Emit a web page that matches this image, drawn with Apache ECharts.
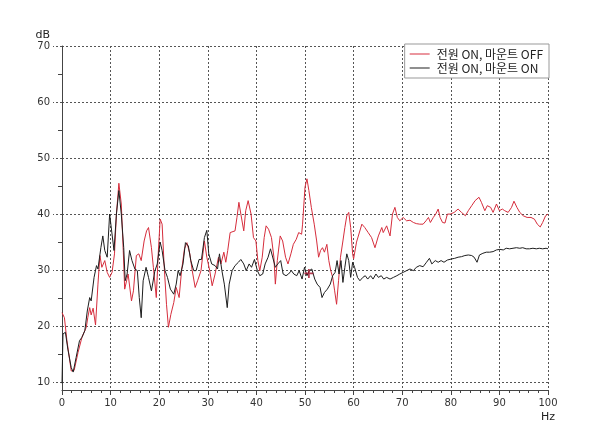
<!DOCTYPE html>
<html>
<head>
<meta charset="utf-8">
<script src="https://cdn.jsdelivr.net/npm/echarts@6/dist/echarts.min.js"></script>
<style>html,body{margin:0;padding:0;background:#fff;}#c{width:609px;height:431px;}</style>
</head>
<body>
<div id="c"></div>
<script>
const seriesNames = ['전원 ON, 마운트 OFF', '전원 ON, 마운트 ON'];
const xTicks = [0,10,20,30,40,50,60,70,80,90,100];
const yTicks = [10,20,30,40,50,60,70];
const yMinorTicks = [15,25,35,45,55,65];

const redHz = [0,0.5,1.0,1.9,2.5,3.3,4.1,5.0,5.3,5.7,6.0,6.4,6.9,7.4,7.8,8.2,8.8,9.3,9.8,10.3,10.8,11.2,11.7,12.2,12.6,12.9,13.6,14.3,14.7,15.3,15.8,16.3,16.9,17.4,17.8,18.4,18.8,19.4,19.8,20.2,20.6,21.0,21.5,21.9,22.4,23.0,23.5,24.1,24.6,25.2,25.7,26.3,26.8,27.4,27.9,28.6,29.3,29.8,30.4,30.9,31.5,32.2,32.7,33.3,33.7,34.1,34.6,35.0,35.6,36.0,36.4,36.8,37.4,37.8,38.3,38.9,39.4,39.9,40.3,40.7,41.2,41.6,42.0,42.5,43.1,43.6,43.9,44.3,44.9,45.4,46.0,46.5,47.1,47.6,48.2,48.7,49.3,49.5,50.0,50.4,50.8,51.3,51.9,52.4,52.8,53.2,53.6,54.0,54.5,54.9,55.3,55.7,56.1,56.5,56.9,57.3,57.8,58.2,58.6,59.0,59.4,59.8,60.0,60.6,61.7,62.3,63.0,63.7,64.4,65.1,65.8,66.1,66.8,67.5,68.0,68.5,69.0,69.5,70.2,70.9,71.6,72.3,72.9,73.6,74.3,74.9,75.4,75.8,76.4,76.9,77.4,77.8,78.3,78.8,79.3,79.9,80.7,81.5,82.2,83.0,83.6,84.3,85.0,85.8,86.3,87.0,87.5,88.2,88.7,89.4,90.0,90.6,91.1,91.8,92.5,93.0,93.6,94.2,94.9,95.7,96.5,97.2,97.8,98.4,98.9,99.5,100];
const redDb = [22.4,21.5,17.5,12.0,12.1,15.3,18.0,19.8,21.5,23.3,22.0,23.2,20.2,27.5,32.6,30.5,31.7,29.6,28.7,29.6,32.9,40.0,45.5,41.8,33.5,26.6,29.3,24.5,26.3,32.6,32.9,31.7,35.2,37.0,37.6,34.0,30.5,25.1,32.9,39.1,38.2,31.1,23.9,19.8,22.1,24.2,26.9,25.1,29.9,33.8,34.9,32.9,29.9,26.9,28.1,29.9,35.2,32.3,29.9,27.2,29.3,32.3,31.1,33.2,31.4,33.5,36.7,37.0,37.0,39.4,42.1,40.0,37.0,40.6,42.4,40.0,35.8,35.2,31.7,29.9,32.3,35.8,37.9,37.3,35.8,32.3,27.5,31.7,36.1,35.2,32.3,31.1,32.9,34.6,35.5,36.7,36.4,38.2,44.8,46.3,44.2,41.2,38.2,35.2,32.3,33.5,34.0,33.2,34.6,31.7,29.9,28.7,26.3,23.9,28.1,32.3,35.2,37.6,39.7,40.3,37.6,32.9,32.0,35.0,38.2,37.6,36.7,35.8,34.0,36.1,37.6,36.7,37.9,36.1,40.0,41.2,39.4,38.8,39.4,38.8,38.9,38.5,38.3,38.2,38.2,38.8,39.4,38.5,39.4,40.0,40.9,39.4,38.5,38.4,40.0,40.0,40.3,40.9,40.3,39.7,40.6,41.5,42.4,43.0,42.1,40.6,41.5,41.2,40.3,41.8,40.6,40.9,40.6,40.3,41.2,42.3,41.2,40.3,39.7,39.4,39.4,39.1,38.2,37.7,38.5,39.7,40.0];

const blackHz = [0,0.2,0.7,1.2,1.6,1.9,2.3,2.9,3.6,4.1,4.7,5.2,5.7,6.0,6.6,7.1,7.4,8.0,8.4,8.8,9.3,9.8,10.2,10.7,11.2,11.7,12.2,12.7,13.0,13.4,13.9,14.4,15.0,15.5,15.9,16.3,16.7,17.3,17.8,18.4,19.1,19.6,20.2,20.6,21.2,21.7,22.3,23.0,23.5,23.9,24.3,24.9,25.4,26.0,26.5,27.1,27.6,28.2,28.7,29.3,29.8,30.2,30.8,31.5,32.0,32.4,32.9,33.4,34.0,34.4,35.0,35.6,36.3,36.8,37.4,37.9,38.5,39.0,39.6,40.2,40.7,41.3,41.8,42.4,42.9,43.3,43.9,44.4,45.0,45.5,46.1,46.6,47.2,47.7,48.3,48.8,49.4,49.9,50.4,50.9,51.4,52.0,52.5,53.1,53.5,54.0,54.6,55.2,55.7,56.2,56.6,57.0,57.4,57.8,58.2,58.6,59.0,59.4,59.8,60.2,60.8,61.3,61.9,62.4,62.9,63.5,64.0,64.6,65.1,65.7,66.2,66.8,67.5,68.2,68.9,69.5,70.2,70.9,71.6,72.3,72.9,73.6,74.3,75.0,75.6,76.1,76.8,77.4,78.0,78.6,79.3,80.2,80.8,81.5,82.2,82.9,83.6,84.3,84.8,85.4,85.9,86.6,87.3,88.0,88.7,89.4,90.1,90.8,91.4,92.1,92.8,93.5,94.2,94.8,95.5,96.2,96.9,97.6,98.2,98.9,99.6,100];
const blackDb = [9.8,18.6,18.9,15.9,16.2,12.6,11.8,14.4,17.4,18.0,19.2,22.7,25.1,24.5,28.7,30.8,30.2,34.0,36.1,33.5,32.3,40.0,39.7,33.5,40.0,44.2,40.0,34.0,28.1,29.3,33.5,31.7,30.2,29.9,25.1,21.5,28.1,30.5,28.7,26.3,29.8,31.1,35.0,33.5,29.9,28.7,26.6,25.7,27.5,29.9,29.0,31.1,34.9,34.3,31.7,29.9,29.9,31.9,31.9,35.8,37.1,32.9,31.1,30.8,30.2,32.9,29.9,27.5,23.3,27.5,29.9,30.8,31.4,31.9,31.1,29.9,31.1,30.5,31.9,29.9,29.0,29.3,31.1,32.3,33.8,33.5,30.5,31.1,31.7,29.3,29.0,29.3,29.9,29.3,29.0,29.9,28.4,30.5,29.0,29.9,30.2,28.4,27.5,26.9,25.1,26.0,26.6,27.5,29.0,29.6,31.7,29.3,31.7,27.8,30.5,32.9,31.7,28.7,31.4,30.5,28.7,28.1,28.7,29.0,28.4,29.0,28.4,29.3,28.7,29.0,28.4,28.7,28.4,28.7,29.0,29.3,29.6,29.9,30.2,29.9,30.5,30.8,30.6,31.4,32.1,31.1,31.7,31.4,31.7,31.4,31.8,32.0,32.1,32.3,32.4,32.6,32.7,32.6,32.3,31.4,32.7,33.0,33.2,33.2,33.3,33.6,33.7,33.6,33.9,33.8,33.9,34.0,33.9,34.0,33.8,33.8,33.9,33.8,33.9,33.8,33.9,33.8];

const cursorHz = [50.8];
const cursorDb = [29.4];

const zip = (a, b) => a.map((v, i) => [v, b[i]]);

const chart = echarts.init(document.getElementById('c'), null, {renderer: 'canvas'});
const axisFont = {fontFamily: 'DejaVu Sans', fontSize: 10, color: '#333'};
const gridLine = {color: '#555', width: 1, type: [2, 2]};

chart.setOption({
  animation: false,
  backgroundColor: '#fff',
  grid: {left: 62, right: 61, top: 46, bottom: 41, containLabel: false},
  legend: {
    orient: 'vertical',
    right: 60, top: 44,
    data: seriesNames,
    icon: 'rect',
    itemWidth: 20, itemHeight: 1,
    itemGap: 2,
    padding: [4, 6, 4, 5],
    borderColor: '#999', borderWidth: 1,
    backgroundColor: '#fff',
    textStyle: {fontFamily: 'Noto Sans CJK KR', fontSize: 12, color: '#222', padding: [0, 0, 0, 2]}
  },
  xAxis: {
    type: 'value', min: 0, max: 100, interval: 10,
    name: 'Hz', nameLocation: 'end', nameGap: 0,
    nameTextStyle: {fontFamily: 'DejaVu Sans', fontSize: 11, color: '#222', align: 'center', verticalAlign: 'top', padding: [22, 0, 0, 0]},
    axisLine: {show: true, lineStyle: {color: '#444', width: 1}},
    axisTick: {show: true, length: 5, lineStyle: {color: '#444'}},
    minorTick: {show: true, splitNumber: 5, length: 3, lineStyle: {color: '#444'}},
    axisLabel: Object.assign({margin: 8, customValues: xTicks}, axisFont),
    splitLine: {show: true, lineStyle: gridLine}
  },
  yAxis: [{
    type: 'value', min: 8.6, max: 70,
    name: 'dB', nameLocation: 'end', nameGap: 5,
    nameTextStyle: {fontFamily: 'DejaVu Sans', fontSize: 11, color: '#222', align: 'right', padding: [0, 12, 0, 0]},
    axisLine: {show: true, lineStyle: {color: '#444', width: 1}},
    axisTick: {show: true, length: 9, customValues: yTicks, lineStyle: {color: '#555', type: [2, 2]}},
    axisLabel: Object.assign({margin: 12, customValues: yTicks}, axisFont),
    splitLine: {show: true, lineStyle: gridLine}
  }, {
    type: 'value', min: 8.6, max: 70, position: 'left',
    axisLine: {show: false},
    axisTick: {show: true, length: 4, customValues: yMinorTicks, lineStyle: {color: '#444'}},
    axisLabel: {show: false, customValues: yMinorTicks},
    splitLine: {show: false}
  }],
  series: [{
    name: seriesNames[0], type: 'line', yAxisIndex: 0,
    data: zip(redHz, redDb),
    showSymbol: false, symbol: 'none',
    lineStyle: {color: '#d62d3c', width: 1},
    itemStyle: {color: '#d62d3c'},
    z: 3
  }, {
    name: seriesNames[1], type: 'line', yAxisIndex: 0,
    data: zip(blackHz, blackDb),
    showSymbol: false, symbol: 'none',
    lineStyle: {color: '#1e1e1e', width: 1},
    itemStyle: {color: '#1e1e1e'},
    z: 4
  }, {
    name: 'cursor', type: 'scatter', yAxisIndex: 0,
    data: zip(cursorHz, cursorDb),
    symbol: 'path://M4,0h2v4h4v2h-4v4h-2v-4h-4v-2h4z',
    symbolSize: 9,
    itemStyle: {color: '#a3122a'},
    z: 5
  }]
});
</script>
</body>
</html>
